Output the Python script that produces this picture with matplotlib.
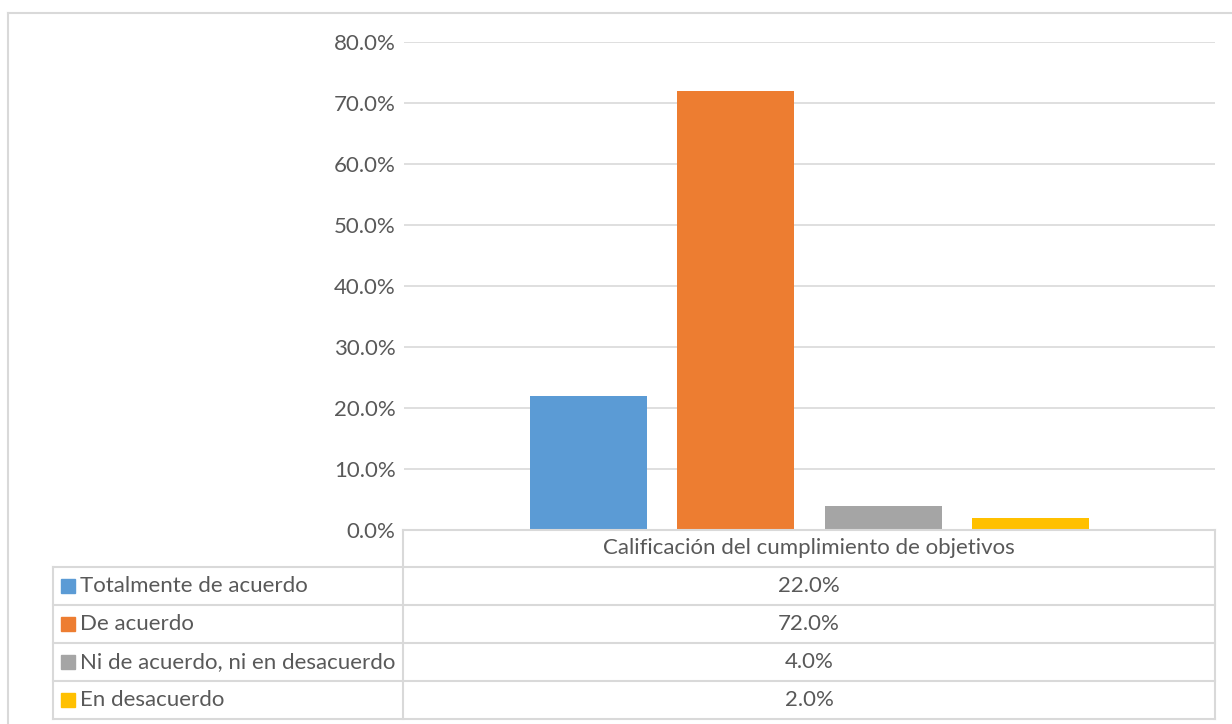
import matplotlib.pyplot as plt
from matplotlib.patches import Rectangle
from matplotlib.lines import Line2D

# Datos
categoria = 'Calificación del cumplimiento de objetivos'
series = ['Totalmente de acuerdo', 'De acuerdo',
          'Ni de acuerdo, ni en desacuerdo', 'En desacuerdo']
valores = [22.0, 72.0, 4.0, 2.0]
colores = ['#5B9BD5', '#ED7D31', '#A5A5A5', '#FFC000']
yticks = [0, 10, 20, 30, 40, 50, 60, 70, 80]

plt.rcParams['font.family'] = ['Lato', 'DejaVu Sans']
texto = '#595959'
linea = '#D9D9D9'
fs = 16

W, H = 1232, 724
fig = plt.figure(figsize=(W / 100, H / 100), dpi=100)


def fx(px):
    return px / W


def fy(py):
    return 1 - py / H


# Marco exterior del gráfico
fig.add_artist(Line2D([fx(8), fx(8)], [fy(13), 0], color=linea, lw=1.5))
fig.add_artist(Line2D([fx(8), 1], [fy(13), fy(13)], color=linea, lw=1.5))

# Área del gráfico
x0, x1, ytop, ybot = 404, 1215, 42, 530
ax = fig.add_axes([fx(x0), fy(ybot), fx(x1 - x0), (ybot - ytop) / H])
n = len(valores)
paso = 0.1819
ancho = 0.1443
pos = [0.5 + paso * (i - (n - 1) / 2) for i in range(n)]
ax.bar(pos, valores, width=ancho, color=colores, zorder=2)
ax.set_xlim(0, 1)
ax.set_ylim(0, 80)
ax.set_yticks(yticks)
ax.set_yticklabels([f'{v:.1f}%' for v in yticks], fontsize=fs, color=texto)
ax.tick_params(axis='y', length=0, pad=6)
ax.set_xticks([])
ax.grid(axis='y', color=linea, lw=1.2, zorder=0)
for s in ax.spines.values():
    s.set_visible(False)

# Tabla de datos
tx0, tmid, tx1 = 53, 403, 1215
filas = [530, 567, 605, 643, 681, 719]
lw = 1.5
# encabezado
fig.add_artist(Line2D([fx(tmid), fx(tx1)], [fy(filas[0])] * 2, color=linea, lw=lw))
fig.add_artist(Line2D([fx(tmid), fx(tmid)], [fy(filas[0]), fy(filas[-1])], color=linea, lw=lw))
fig.add_artist(Line2D([fx(tx1), fx(tx1)], [fy(filas[0]), fy(filas[-1])], color=linea, lw=lw))
fig.add_artist(Line2D([fx(tx0), fx(tx0)], [fy(filas[1]), fy(filas[-1])], color=linea, lw=lw))
for y in filas[1:]:
    fig.add_artist(Line2D([fx(tx0), fx(tx1)], [fy(y)] * 2, color=linea, lw=lw))
fig.text(fx((tmid + tx1) / 2), fy((filas[0] + filas[1]) / 2), categoria,
         ha='center', va='center', fontsize=fs, color=texto)
for i, (nombre, v, c) in enumerate(zip(series, valores, colores)):
    yc = (filas[i + 1] + filas[i + 2]) / 2
    fig.add_artist(Rectangle((fx(61), fy(yc + 7)), fx(14), 14 / H,
                             color=c, transform=fig.transFigure))
    fig.text(fx(80), fy(yc), nombre, ha='left', va='center',
             fontsize=fs, color=texto)
    fig.text(fx((tmid + tx1) / 2), fy(yc), f'{v:.1f}%', ha='center',
             va='center', fontsize=fs, color=texto)

fig.savefig('out.png', dpi=100)
